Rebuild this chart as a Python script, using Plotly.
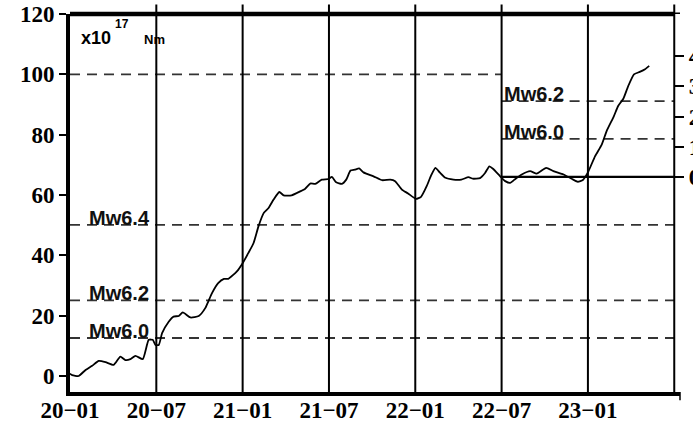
import plotly.graph_objects as go

# ---- data (months since 2020-01, cumulative moment in 1e17 Nm) ----
month_index = [0.0, 0.15, 0.6, 1.08, 1.54, 2.0, 2.47, 3.04, 3.5, 3.85, 4.2, 4.55, 5.06,
               5.47, 5.75, 5.94, 6.17, 6.4, 6.86, 7.2, 7.56, 7.84, 8.37, 8.95, 9.4, 9.87,
               10.3, 10.7, 11.0, 11.6, 12.0, 12.4, 12.76, 13.1, 13.46, 13.8, 14.15, 14.55,
               14.85, 15.4, 16.0, 16.35, 16.7, 17.05, 17.5, 17.97, 18.2, 18.5, 18.9, 19.2,
               19.5, 19.8, 20.1, 20.4, 21.1, 21.7, 22.26, 22.6, 23.07, 23.5, 24.05, 24.4,
               24.8, 25.1, 25.4, 25.7, 26.1, 26.65, 27.2, 27.7, 28.0, 28.5, 28.85, 29.15,
               29.4, 29.9, 30.25, 30.6, 30.9, 31.4, 31.98, 32.44, 33.1, 33.6, 34.3, 34.9,
               35.3, 35.65, 36.0, 36.5, 36.96, 37.3, 37.8, 38.1, 38.46, 38.8, 39.2, 39.6,
               39.97, 40.26]
moment = [0.8, 0.3, 0.0, 2.0, 3.4, 5.0, 4.6, 3.7, 6.4, 5.3, 5.6, 6.7, 5.6,
          12.0, 12.0, 10.3, 10.3, 14.2, 18.0, 19.7, 19.9, 21.1, 19.4, 19.9, 22.5, 27.5,
          30.8, 32.2, 32.2, 34.7, 37.4, 40.8, 44.1, 49.6, 54.0, 55.7, 58.5, 61.0,
          59.9, 59.9, 61.2, 62.1, 63.8, 63.7, 65.1, 65.3, 66.0, 64.2, 63.7, 65.1,
          68.1, 68.4, 68.8, 67.5, 66.2, 64.9, 65.1, 64.6, 61.8, 60.5, 58.7, 59.4,
          63.0, 66.5, 69.0, 67.5, 65.7, 65.1, 65.1, 65.9, 65.4, 65.6, 67.3, 69.5,
          68.7, 66.2, 64.6, 64.0, 65.1, 66.8, 67.9, 67.1, 69.0, 67.9, 66.8, 65.3,
          64.4, 65.0, 67.5, 72.9, 76.7, 81.2, 86.1, 89.5, 91.9, 96.1, 100.0, 100.8,
          101.7, 102.8]

tick_months = [0, 6, 12, 18, 24, 30, 36]
tick_labels = ["20−01", "20−07", "21−01", "21−07", "22−01", "22−07", "23−01"]
grid_months = [6, 12, 18, 24, 30, 36, 42]
y_ticks = [0, 20, 40, 60, 80, 100, 120]
mw_labels = ["Mw6.0", "Mw6.2", "Mw6.4"]
mw_moment = [12.6, 25.1, 50.1]
ref_line_100 = 100
baseline_month = 30
end_month = 42
baseline_value = 66
right_ticks = [0, 1, 2, 3, 4]
right_scale = 10  # 1 unit on right axis = 10 x 1e17 Nm

Y_RANGE = [-5.3, 120]
X_RANGE = [0, 42.4]

fig = go.Figure()
fig.add_trace(go.Scatter(x=month_index, y=moment, mode="lines",
                         line=dict(color="black", width=1.8, shape="spline", smoothing=0.5),
                         showlegend=False, hoverinfo="skip"))
# invisible trace so the right axis is drawn
fig.add_trace(go.Scatter(x=[end_month], y=[0], yaxis="y2", mode="markers",
                         marker=dict(opacity=0), showlegend=False, hoverinfo="skip"))

shapes = []
dash_style = dict(color="#333333", width=1.8, dash="10px,7px")
for v in mw_moment:
    shapes.append(dict(type="line", xref="x", yref="y", x0=0, x1=end_month, y0=v, y1=v,
                       line=dash_style, layer="below"))
shapes.append(dict(type="line", xref="x", yref="y", x0=0, x1=baseline_month,
                   y0=ref_line_100, y1=ref_line_100, line=dash_style, layer="below"))
for v in mw_moment[:2]:
    shapes.append(dict(type="line", xref="x", yref="y", x0=baseline_month, x1=end_month,
                       y0=baseline_value + v, y1=baseline_value + v, line=dash_style, layer="below"))
shapes.append(dict(type="line", xref="x", yref="y", x0=baseline_month, x1=end_month,
                   y0=baseline_value, y1=baseline_value, line=dict(color="black", width=2.4)))
for m in grid_months:
    shapes.append(dict(type="line", xref="x", yref="paper", x0=m, x1=m, y0=0, y1=1.025,
                       line=dict(color="black", width=2)))
# top border
shapes.append(dict(type="line", xref="x", yref="paper", x0=0, x1=end_month, y0=1, y1=1,
                   line=dict(color="black", width=4.5)))
# top tick on right axis and end tick on x axis
shapes.append(dict(type="line", xref="x", yref="paper", x0=end_month, x1=end_month + 0.65,
                   y0=1.002, y1=1.002, line=dict(color="black", width=1.5)))
shapes.append(dict(type="line", xref="paper", yref="paper", x0=1, x1=1, y0=0, y1=-0.022,
                   line=dict(color="black", width=1.5)))

annotations = []
for lab, v in zip(mw_labels, mw_moment):
    annotations.append(dict(x=1.2, y=v, xref="x", yref="y", text="<b>" + lab + "</b>",
                            showarrow=False, xanchor="left", yanchor="bottom", yshift=-6,
                            font=dict(family="Liberation Sans", size=20, color="#111")))
for lab, v in zip(mw_labels[:2], mw_moment[:2]):
    annotations.append(dict(x=baseline_month + 0.05, y=baseline_value + v, xref="x", yref="y",
                            text="<b>" + lab + "</b>", showarrow=False, xanchor="left",
                            yanchor="bottom", yshift=-6,
                            font=dict(family="Liberation Sans", size=20, color="#111")))
annotations.append(dict(x=0.62, y=112.0, xref="x", yref="y", text="<b>x10</b>",
                        showarrow=False, xanchor="left", yanchor="middle",
                        font=dict(family="Liberation Sans", size=18, color="black")))
annotations.append(dict(x=3.0, y=116.6, xref="x", yref="y", text="<b>17</b>",
                        showarrow=False, xanchor="left", yanchor="middle",
                        font=dict(family="Liberation Sans", size=12, color="black")))
annotations.append(dict(x=5.0, y=111.4, xref="x", yref="y", text="<b>Nm</b>",
                        showarrow=False, xanchor="left", yanchor="middle",
                        font=dict(family="Liberation Sans", size=13, color="black")))

tick_font = dict(family="Liberation Serif", size=23, color="black", weight="bold")
fig.update_layout(
    width=693, height=426,
    margin=dict(l=70, r=13, t=14, b=34, autoexpand=False),
    paper_bgcolor="white", plot_bgcolor="white",
    shapes=shapes, annotations=annotations,
    xaxis=dict(range=X_RANGE, tickvals=tick_months, ticktext=tick_labels,
               showgrid=False, zeroline=False, showline=True, linecolor="black",
               linewidth=4, ticks="", ticklen=0, ticklabelstandoff=-6,
               tickfont=tick_font, automargin=False),
    yaxis=dict(range=Y_RANGE, tickvals=y_ticks, showgrid=False, zeroline=False,
               showline=True, linecolor="black", linewidth=4, ticks="outside",
               ticklen=7, tickwidth=2, tickcolor="black", tickfont=tick_font,
               automargin=False),
    yaxis2=dict(overlaying="y", anchor="free", side="right",
                position=end_month / X_RANGE[1],
                range=[(Y_RANGE[0] - baseline_value) / right_scale,
                       (Y_RANGE[1] - baseline_value) / right_scale],
                tickvals=right_ticks, showgrid=False, zeroline=False, showline=False,
                ticks="outside", ticklen=9, tickwidth=1.5, tickcolor="black",
                tickfont=tick_font, automargin=False),
)

fig.write_html("out.html", config={"displayModeBar": False},
               post_script="document.body.style.margin='0';document.body.style.overflow='hidden';")
